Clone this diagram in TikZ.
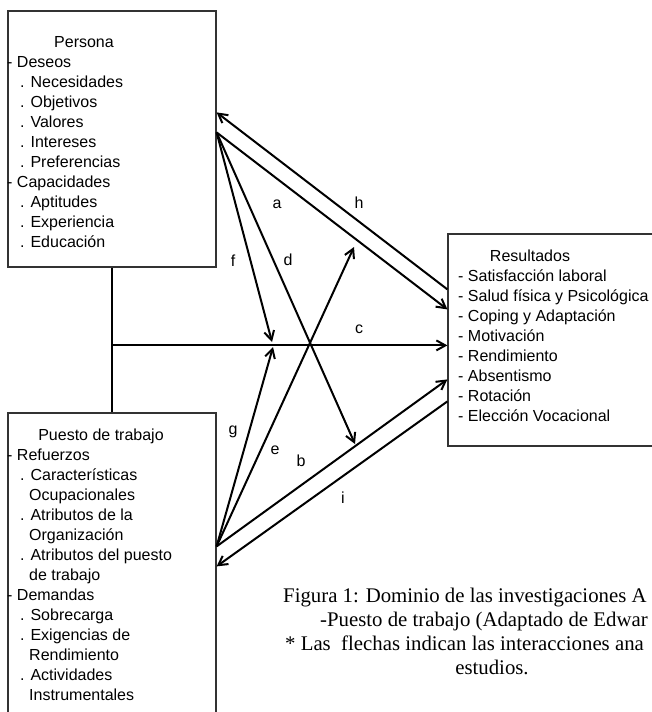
\documentclass[tikz,border=0pt]{standalone}
\usepackage{fontspec}
\setmainfont{Liberation Serif}
\setsansfont{Liberation Sans}
\usetikzlibrary{arrows.meta,positioning}

\begin{document}
\begin{tikzpicture}[
  x=1pt, y=-1pt,
  box/.style={draw=black!80,line width=1.2pt,minimum width=208pt,inner sep=0pt},
  item/.style={font=\sffamily\fontsize{16}{20}\selectfont,inner sep=0pt,anchor=base west},
  ttl/.style={font=\sffamily\fontsize{16}{20}\selectfont,inner sep=0pt,anchor=base},
  lbl/.style={font=\sffamily\fontsize{16}{20}\selectfont,inner sep=0pt},
  arrow/.style={-{Straight Barb[length=9pt,width=10pt]},line width=2pt},
  capt/.style={font=\fontsize{20.8}{24}\selectfont,inner sep=0pt,anchor=base west}
]
  \useasboundingbox (0,0) rectangle (652,712);
  \clip (0,0) rectangle (652,712);

  % boxes
  \node[box,minimum height=256pt] (persona) at (112,139) {};
  \node[box,minimum height=320pt] (puesto) at (112,573) {};
  \node[box,minimum width=222pt,minimum height=212pt] (result) at (559,340) {};

  \node[ttl] (personaT) at (84,47) {Persona};
  \foreach \x/\t [count=\i] in {7/- Deseos, 20/. Necesidades, 20/. Objetivos,
      20/. Valores, 20/. Intereses, 20/. Preferencias, 7/- Capacidades,
      20/. Aptitudes, 20/. Experiencia, 20/. Educación}
    \node[item] (pers\i) at (\x,47+20*\i) {\t};

  \node[ttl] (puestoT) at (101,440) {Puesto de trabajo};
  \foreach \x/\t [count=\i] in {7/- Refuerzos, 20/. Características, 29/Ocupacionales,
      20/. Atributos de la, 29/Organización, 20/. Atributos del puesto, 29/de trabajo,
      7/- Demandas, 20/. Sobrecarga, 20/. Exigencias de, 29/Rendimiento,
      20/. Actividades, 29/Instrumentales}
    \node[item] (pues\i) at (\x,440+20*\i) {\t};

  \node[ttl] (resultT) at (530,261) {Resultados};
  \foreach \t [count=\i] in {- Satisfacción laboral, - Salud física y Psicológica,
      - Coping y Adaptación, - Motivación, - Rendimiento, - Absentismo,
      - Rotación, - Elección Vocacional}
    \node[item] (res\i) at (458,261+20*\i) {\t};

  % connectors
  \coordinate (pA) at ([yshift=-122pt]persona.north east);
  \coordinate (pB) at ([yshift=-134pt]puesto.north east);
  \coordinate (cEnd) at ([yshift=-112pt]result.north west);
  \coordinate (fEnd) at (272,342);
  \coordinate (gEnd) at (273,347);
  \coordinate (dEnd) at (355,444);
  \coordinate (eEnd) at (354,247);

  \draw[line width=2pt] (persona.south) -- (puesto.north);
  \draw[arrow] (persona.south |- cEnd) -- (cEnd);
  \draw[arrow] ([yshift=-56pt]result.north west) -- ([yshift=-102pt]persona.north east);
  \draw[arrow] (pA) -- ([yshift=-76pt]result.north west);
  \draw[arrow] (pA) -- (fEnd);
  \draw[arrow] (pA) -- (dEnd);
  \draw[arrow] (pB) -- (gEnd);
  \draw[arrow] (pB) -- (eEnd);
  \draw[arrow] (pB) -- ([yshift=-146pt]result.north west);
  \draw[arrow] ([yshift=-168pt]result.north west) -- ([yshift=-154pt]puesto.north east);

  \node[lbl] (la) at (277,204) {a};
  \node[lbl] (lh) at (359,203) {h};
  \node[lbl] (lf) at (233,261) {f};
  \node[lbl] (ld) at (288,260) {d};
  \node[lbl] (lc) at (359,329) {c};
  \node[lbl] (lg) at (233,432) {g};
  \node[lbl] (le) at (275,450) {e};
  \node[lbl] (lb) at (301,461) {b};
  \node[lbl] (li) at (343,498) {i};

  % caption
  \node[capt] (cap1) at (283,602) {Figura 1: Dominio de las investigaciones A};
  \node[capt] (cap2) at (320,626) {-Puesto de trabajo (Adaptado de Edwar};
  \node[capt] (cap3) at (285,650) {* Las\ \ flechas indican las interacciones ana};
  \node[capt,anchor=base] (cap4) at (492,674) {estudios.};
\end{tikzpicture}
\end{document}
